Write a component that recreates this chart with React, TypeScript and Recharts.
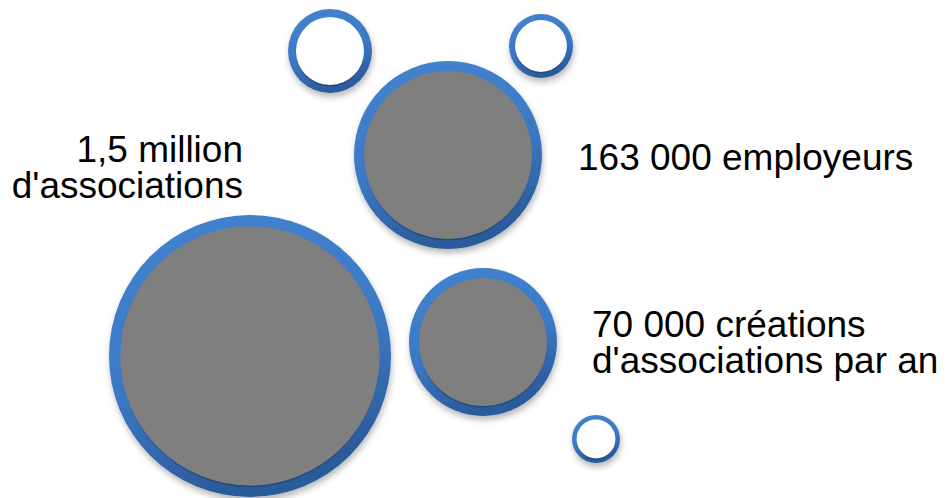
import React from "react"
import { ScatterChart, Scatter, XAxis, YAxis } from "recharts"

const W = 947
const H = 498

// bubbles: centre and radius in page pixels
const bubbleX = [250, 448, 483, 330, 541, 596]
const bubbleY = [356, 155, 342, 51, 46, 439]
const bubbleR = [141, 94, 74, 42, 32, 24]
const bubbleFilled = [true, true, true, false, false, false]

// labels
const labelLines = [
    ["1,5 million", "d'associations"],
    ["163 000 employeurs"],
    ["70 000 créations", "d'associations par an"],
]
const labelX = [243, 578, 592]
const labelY = [162, 170, 337]
const labelAnchor = ["end", "start", "start"]

const bubbles = bubbleX.map((x, i) => ({
    x,
    y: bubbleY[i],
    r: bubbleR[i],
    filled: bubbleFilled[i],
}))

const labels = labelX.map((x, i) => ({
    x,
    y: labelY[i],
    lines: labelLines[i],
    anchor: labelAnchor[i],
}))

const Bubble = (props: any) => {
    const { cx, cy, payload } = props
    const r = payload.r
    const ring = payload.filled ? Math.max(10, r * 0.08) : r * 0.19
    return (
        <g>
            <circle cx={cx} cy={cy} r={r} fill="url(#ringFill)" filter="url(#softShadow)" />
            <circle
                cx={cx}
                cy={cy}
                r={r - ring}
                fill={payload.filled ? "#7f7f7f" : "#ffffff"}
            />
            <circle
                cx={cx}
                cy={cy}
                r={r - ring + 0.7}
                fill="none"
                stroke="url(#innerEdge)"
                strokeWidth={1.4}
            />
        </g>
    )
}

const Label = (props: any) => {
    const { cx, cy, payload } = props
    return (
        <text
            x={cx}
            y={cy}
            textAnchor={payload.anchor}
            fontFamily="'Liberation Sans', Arial, sans-serif"
            fontSize={37}
            fill="#000"
        >
            {payload.lines.map((line: string, i: number) => (
                <tspan key={i} x={cx} dy={i === 0 ? 0 : 36}>
                    {line}
                </tspan>
            ))}
        </text>
    )
}

export default function App() {
    return (
        <div style={{ width: W, height: H, background: "#fff" }}>
            <style>{`body{margin:0}`}</style>
            <ScatterChart width={W} height={H} margin={{ top: 0, right: 0, bottom: 0, left: 0 }}>
                <defs>
                    <linearGradient id="ringFill" x1="0" y1="0" x2="0.3" y2="1">
                        <stop offset="0%" stopColor="#4383d0" />
                        <stop offset="60%" stopColor="#3b79c5" />
                        <stop offset="100%" stopColor="#2c5b9b" />
                    </linearGradient>
                    <linearGradient id="innerEdge" x1="0" y1="0" x2="0" y2="1">
                        <stop offset="0%" stopColor="#3b78c4" stopOpacity={0} />
                        <stop offset="65%" stopColor="#2a4f80" stopOpacity={0.1} />
                        <stop offset="100%" stopColor="#1d3a63" stopOpacity={0.6} />
                    </linearGradient>
                    <filter id="softShadow" x="-20%" y="-20%" width="140%" height="150%">
                        <feDropShadow dx={1} dy={4} stdDeviation={3} floodColor="#000" floodOpacity={0.28} />
                    </filter>
                </defs>
                <XAxis type="number" dataKey="x" domain={[0, W]} allowDataOverflow hide />
                <YAxis type="number" dataKey="y" domain={[0, H]} allowDataOverflow reversed hide />
                <Scatter data={bubbles} shape={Bubble} isAnimationActive={false} />
                <Scatter data={labels} shape={Label} isAnimationActive={false} />
            </ScatterChart>
        </div>
    )
}
